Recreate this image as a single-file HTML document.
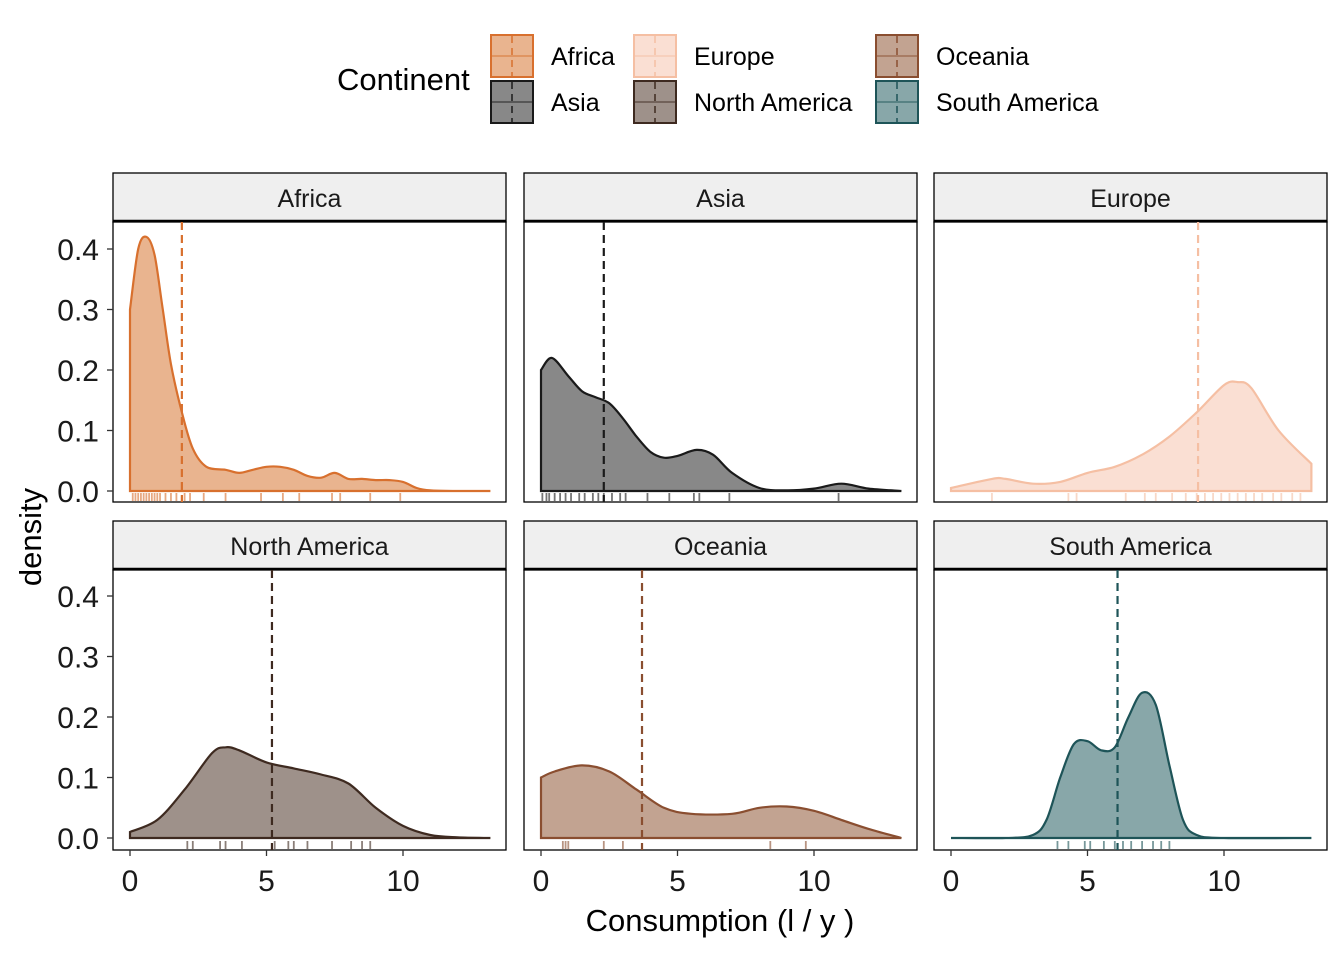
<!DOCTYPE html>
<html><head><meta charset="utf-8">
<style>
html,body{margin:0;padding:0;background:#fff;}
svg{display:block;font-family:"Liberation Sans",Arial,sans-serif;}
</style></head>
<body>
<svg id="chart" width="1344" height="960" viewBox="0 0 1344 960" xmlns="http://www.w3.org/2000/svg"></svg>
<script>
const continents = ["Africa","Asia","Europe","North America","Oceania","South America"];
const lineColors = ["#d8702e","#1a1a1a","#f5bfa3","#3e2a20","#8a4e30","#1e5458"];
const fillColors = ["#e9b48f","#888888","#fadfd3","#9e918a","#c2a391","#88a7a9"];
const africaX = [0,0.3,0.6,0.9,1.2,1.5,1.9,2.3,2.8,3.5,4,4.5,5,5.5,6,6.5,7,7.5,8,8.5,9,9.5,10,10.5,11,12,13.2];
const africaD = [0.30,0.40,0.42,0.39,0.30,0.21,0.13,0.07,0.04,0.035,0.03,0.035,0.04,0.04,0.035,0.025,0.022,0.03,0.02,0.02,0.018,0.018,0.015,0.005,0.001,0,0];
const asiaX = [0,0.4,1,1.5,2,2.5,3,3.5,4,4.5,5,5.7,6.3,7,8,9,10,11,12,13.2];
const asiaD = [0.20,0.22,0.19,0.165,0.155,0.145,0.12,0.09,0.065,0.055,0.058,0.068,0.06,0.03,0.005,0.001,0.004,0.012,0.004,0];
const europeX = [0,1.5,2,3,4,5,6,7,8,9,10,10.5,11,12,13.2];
const europeD = [0.005,0.02,0.02,0.012,0.015,0.03,0.04,0.06,0.09,0.13,0.175,0.18,0.17,0.1,0.045];
const naX = [0,1,2,3,3.5,4,5,6,7,8,9,10,11,12,13.2];
const naD = [0.01,0.03,0.08,0.14,0.15,0.145,0.125,0.115,0.105,0.09,0.05,0.02,0.005,0.001,0];
const ocX = [0,0.5,1.5,2.5,3.5,4.5,5.5,7,8,9,10,11,12,13.2];
const ocD = [0.1,0.11,0.12,0.11,0.08,0.05,0.04,0.04,0.05,0.052,0.045,0.03,0.015,0];
const saX = [0,2,3,3.5,4,4.5,5,5.5,6,6.5,7,7.5,8,8.5,9,10,13.2];
const saD = [0,0,0.005,0.03,0.1,0.155,0.16,0.145,0.15,0.2,0.24,0.22,0.12,0.03,0.005,0,0];
const means = [1.9,2.3,9.05,5.2,3.7,6.1];
const rugs = [
 [0.1,0.2,0.3,0.4,0.5,0.6,0.7,0.8,0.9,1.0,1.1,1.3,1.5,1.7,2.0,2.2,2.7,3.5,4.8,5.6,6.2,7.4,7.7,8.8,9.9],
 [0.05,0.2,0.3,0.5,0.7,0.9,1.1,1.4,1.6,1.9,2.1,2.3,2.6,2.9,3.1,3.9,4.7,5.6,5.8,6.9,10.9],
 [1.5,4.3,4.6,6.4,7.1,7.5,8.1,8.6,9.0,9.3,9.6,9.9,10.2,10.5,10.8,11.1,11.4,11.8,12.1,12.5,12.8],
 [2.1,2.3,3.3,3.5,4.1,5.3,5.8,6.0,6.5,7.4,8.1,8.5,8.8],
 [0.8,0.9,1.0,2.3,3.0,8.4,9.7],
 [3.9,4.3,4.9,5.1,5.6,6.0,6.3,6.6,7.0,7.4,7.7,8.0]
];
const xs=[africaX,asiaX,europeX,naX,ocX,saX], ds=[africaD,asiaD,europeD,naD,ocD,saD];
const yTicks=[0,0.1,0.2,0.3,0.4], yLabels=["0.0","0.1","0.2","0.3","0.4"];
const xTicks=[0,5,10], xLabels=["0","5","10"];

const NS="http://www.w3.org/2000/svg", svg=document.getElementById("chart");
function mk(tag,attrs,parent){const e=document.createElementNS(NS,tag);for(const k in attrs)e.setAttribute(k,attrs[k]);(parent||svg).appendChild(e);return e;}
const panelX=[113,524,934], panelW=393;
const rows=[{stripY:173,top:222,bot:502,zero:491},{stripY:521,top:570,bot:850,zero:838}];
const unit=27.3, yScalePer=605;
function sx(col,v){return panelX[col]+17+v*unit;}
function sy(row,d){return rows[row].zero-d*yScalePer;}
function smooth(pts){let p="M"+pts[0][0]+","+pts[0][1];for(let i=0;i<pts.length-1;i++){const p0=pts[Math.max(0,i-1)],p1=pts[i],p2=pts[i+1],p3=pts[Math.min(pts.length-1,i+2)];const c1=[p1[0]+(p2[0]-p0[0])/6,p1[1]+(p2[1]-p0[1])/6],c2=[p2[0]-(p3[0]-p1[0])/6,p2[1]-(p3[1]-p1[1])/6];p+=" C"+c1[0].toFixed(1)+","+c1[1].toFixed(1)+" "+c2[0].toFixed(1)+","+c2[1].toFixed(1)+" "+p2[0].toFixed(1)+","+p2[1].toFixed(1);}return p;}

continents.forEach((c,i)=>{
 const row=Math.floor(i/3), col=i%3, R=rows[row], x0=panelX[col];
 const g=mk("g",{});
 
 
 const strip=mk("rect",{x:x0,y:R.stripY,width:panelW,height:R.top-R.stripY,fill:"#efefef",stroke:"#000","stroke-width":1.3},g);
 
 
 const st=mk("text",{x:x0+panelW/2,y:R.stripY+34,"text-anchor":"middle","font-size":25,fill:"#1a1a1a"},g);st.textContent=c;
 
 
 mk("line",{x1:x0,x2:x0+panelW,y1:R.top-1,y2:R.top-1,stroke:"#000","stroke-width":2.5},g);
 mk("rect",{x:x0,y:R.top,width:panelW,height:R.bot-R.top,fill:"#fff",stroke:"#000","stroke-width":1.3},g);
 const pts=xs[i].map((v,k)=>[sx(col,v),sy(row,ds[i][k])]);
 let d=smooth(pts);
 const area=mk("path",{d:d+" L"+pts[pts.length-1][0]+","+R.zero+" L"+pts[0][0]+","+R.zero+" Z",fill:fillColors[i],stroke:"none"},g);
 
 
 const line=mk("path",{d:d+" L"+pts[pts.length-1][0]+","+R.zero+" L"+pts[0][0]+","+R.zero+" Z",fill:"none",stroke:lineColors[i],"stroke-width":2.2},g);
 
 
 rugs[i].forEach(v=>{const r=mk("line",{x1:sx(col,v),x2:sx(col,v),y1:R.bot-9,y2:R.bot-1,stroke:lineColors[i],"stroke-width":1.8,opacity:0.6},g);
  
  });
 const m=mk("line",{x1:sx(col,means[i]),x2:sx(col,means[i]),y1:R.top,y2:R.bot,stroke:lineColors[i],"stroke-width":2.2,"stroke-dasharray":"8,5"},g);
 
 
 if(col===0){yTicks.forEach((t,k)=>{mk("line",{x1:x0-6,x2:x0,y1:sy(row,t),y2:sy(row,t),stroke:"#333","stroke-width":1.3});
  const tl=mk("text",{x:x0-14,y:sy(row,t)+11,"text-anchor":"end","font-size":30,fill:"#1a1a1a"});tl.textContent=yLabels[k];
  
  });}
 if(row===1){xTicks.forEach((t,k)=>{mk("line",{x1:sx(col,t),x2:sx(col,t),y1:R.bot,y2:R.bot+6,stroke:"#333","stroke-width":1.3});
  const tl=mk("text",{x:sx(col,t),y:R.bot+41,"text-anchor":"middle","font-size":30,fill:"#1a1a1a"});tl.textContent=xLabels[k];
  
  });}
});
const xt=mk("text",{x:720,y:931,"text-anchor":"middle","font-size":31,fill:"#000"});xt.textContent="Consumption (l / y )";


const yt=mk("text",{x:41,y:537,"text-anchor":"middle","font-size":31,fill:"#000",transform:"rotate(-90 41 537)"});yt.textContent="density";


const lt=mk("text",{x:337,y:90,"font-size":31,fill:"#000"});lt.textContent="Continent";


const legPos=[[490,34],[633,34],[875,34],[490,80],[633,80],[875,80]];
const legOrder=[0,2,4,1,3,5];
legOrder.forEach((ci,k)=>{const [lx,ly]=legPos[k];
 const g=mk("g",{});
 
 
 mk("rect",{x:lx+1,y:ly+1,width:42,height:42,fill:fillColors[ci],stroke:lineColors[ci],"stroke-width":2},g);
 mk("line",{x1:lx+22,x2:lx+22,y1:ly+2,y2:ly+42,stroke:lineColors[ci],"stroke-width":1.5,"stroke-dasharray":"7,5"},g);
 mk("line",{x1:lx+2,x2:lx+42,y1:ly+22,y2:ly+22,stroke:lineColors[ci],"stroke-width":1.5,opacity:0.6},g);
 const t=mk("text",{x:lx+61,y:ly+31,"font-size":25,fill:"#000"},g);t.textContent=continents[ci];
});
</script>
</body></html>
